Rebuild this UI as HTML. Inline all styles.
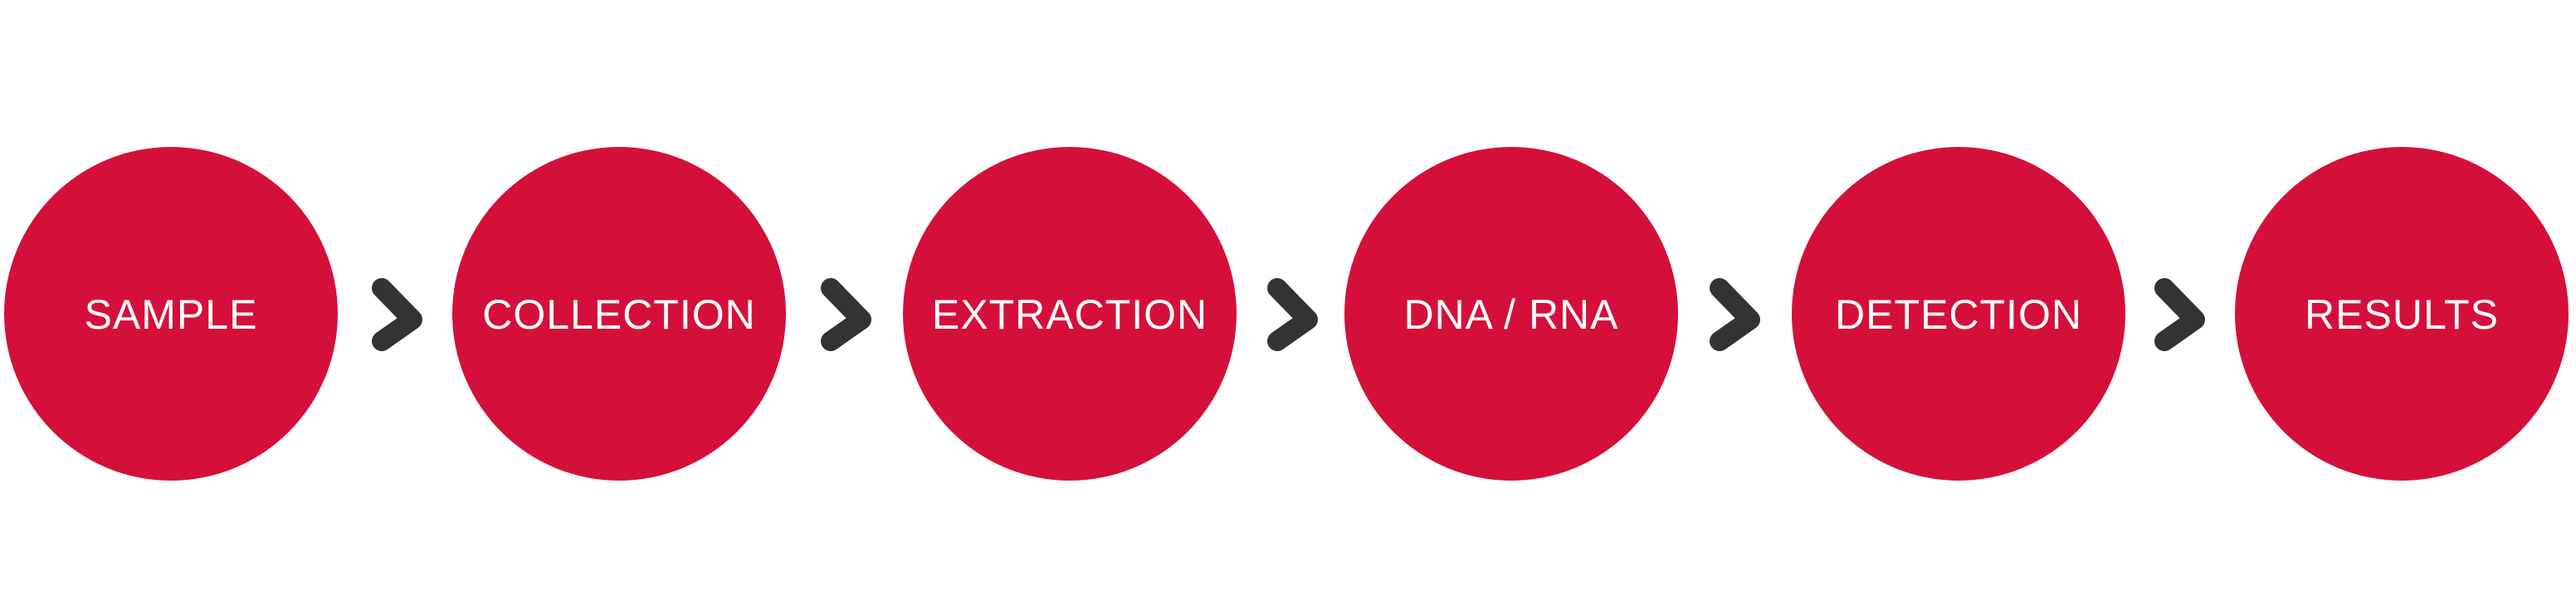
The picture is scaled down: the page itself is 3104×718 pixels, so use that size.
<!DOCTYPE html>
<html><head><style>
html,body{margin:0;padding:0;background:#fff;}
svg{display:block}
text{font-family:"Liberation Sans",sans-serif;font-size:50px;fill:#fff;text-anchor:middle;letter-spacing:1px}
</style></head><body>
<svg width="3104" height="718" viewBox="0 0 3104 718">
<g fill="#d4103a">
<circle cx="206" cy="378" r="201"/>
<circle cx="746" cy="378" r="201"/>
<circle cx="1289" cy="378" r="201"/>
<circle cx="1821" cy="378" r="201"/>
<circle cx="2360" cy="378" r="201"/>
<circle cx="2894" cy="378" r="201"/>
</g>
<g fill="none" stroke="#333" stroke-width="24" stroke-linecap="round" stroke-linejoin="round">
<polyline points="460,347 497,385 460,411"/>
<polyline points="1001,347 1038,385 1001,411"/>
<polyline points="1539,347 1576,385 1539,411"/>
<polyline points="2072,347 2109,385 2072,411"/>
<polyline points="2608,347 2645,385 2608,411"/>
</g>
<text x="206" y="396">SAMPLE</text>
<text x="746" y="396">COLLECTION</text>
<text x="1289" y="396">EXTRACTION</text>
<text x="1821" y="396">DNA / RNA</text>
<text x="2360" y="396">DETECTION</text>
<text x="2894" y="396">RESULTS</text>
</svg>
</body></html>
